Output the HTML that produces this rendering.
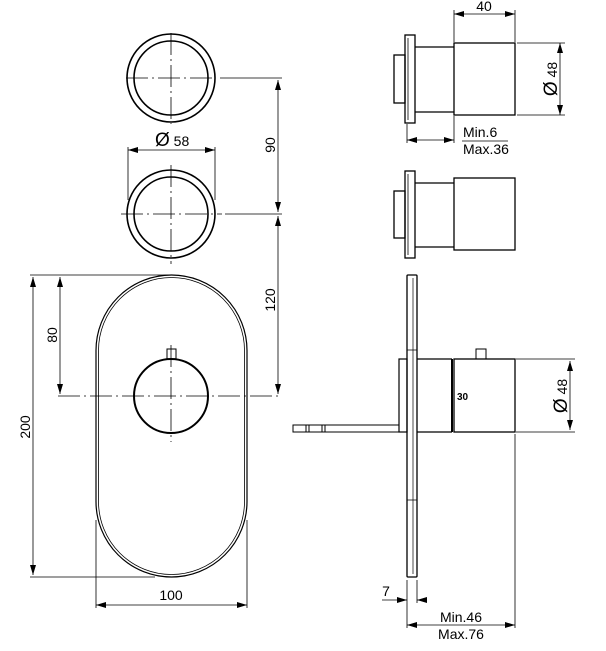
<!DOCTYPE html>
<html><head><meta charset="utf-8"><style>
html,body{margin:0;padding:0;background:#fff;}
svg{display:block;}
text{font-family:"Liberation Sans",Arial,sans-serif;font-size:14px;fill:#000;}
</style></head><body>
<svg width="606" height="651" viewBox="0 0 606 651" xmlns="http://www.w3.org/2000/svg">
<defs>
<marker id="a" viewBox="0 0 10 6" refX="10" refY="3" markerWidth="10" markerHeight="6" orient="auto-start-reverse" markerUnits="userSpaceOnUse"><path d="M0,0 L10,3 L0,6 z" fill="#000"/></marker>
</defs>
<g fill="none" stroke="#000" stroke-width="1">
<circle cx="171" cy="78" r="44" stroke-width="1.6"/>
<circle cx="171" cy="78" r="37" stroke-width="1.6"/>
<circle cx="171" cy="214" r="44" stroke-width="1.6"/>
<circle cx="171" cy="214" r="37" stroke-width="1.6"/>
<g stroke-width="0.8" stroke-dasharray="22,4,2,4">
<path d="M171,33 V124 M171,165 V264"/>
<path d="M126,78 H216 M121,214 H222"/>
</g>
<path d="M220,78 H282 M225,214 H282" stroke-width="0.8"/>
<path d="M278,80 V212" marker-start="url(#a)" marker-end="url(#a)" stroke-width="0.8"/>
<path d="M278,216 V394" marker-start="url(#a)" marker-end="url(#a)" stroke-width="0.8"/>
<path d="M128,147 V200 M215,147 V200" stroke-width="0.8"/>
<path d="M128,150 H215" marker-start="url(#a)" marker-end="url(#a)" stroke-width="0.8"/>
<rect x="96" y="275" width="151" height="302" rx="75.5" stroke-width="1.2"/>
<rect x="98.5" y="277.5" width="146" height="297" rx="73" stroke-width="0.8"/>
<circle cx="171" cy="396" r="37" stroke-width="2"/>
<rect x="167" y="349" width="9" height="10" stroke-width="1"/>
<g stroke-width="0.8" stroke-dasharray="22,4,2,4">
<path d="M171,345 V442"/>
<path d="M58,396 H282"/>
</g>
<path d="M30,275 H171 M30,577 H155" stroke-width="0.8"/>
<path d="M33,277 V575" marker-start="url(#a)" marker-end="url(#a)" stroke-width="0.8"/>
<path d="M60,277 V394" marker-start="url(#a)" marker-end="url(#a)" stroke-width="0.8"/>
<path d="M96,520 V608 M247,520 V608" stroke-width="0.8"/>
<path d="M96,605 H247" marker-start="url(#a)" marker-end="url(#a)" stroke-width="0.8"/>
<rect x="405" y="35" width="10" height="88" stroke-width="1.3"/>
<path d="M408,38 V120" stroke-width="0.8"/>
<rect x="394" y="55" width="11" height="48" stroke-width="1.3"/>
<path d="M415,47 H454 M415,112 H454" stroke-width="1.2"/>
<rect x="454" y="43" width="61" height="72" stroke-width="1.3"/>
<path d="M454,10 V42 M515,10 V42" stroke-width="0.8"/>
<path d="M454,14 H515" marker-start="url(#a)" marker-end="url(#a)" stroke-width="0.8"/>
<path d="M517,43 H565 M517,115 H565" stroke-width="0.8"/>
<path d="M560,43 V115" marker-start="url(#a)" marker-end="url(#a)" stroke-width="0.8"/>
<path d="M407,124 V143 M454,116 V143" stroke-width="0.8"/>
<path d="M407,140 H454" marker-start="url(#a)" marker-end="url(#a)" stroke-width="0.8"/>
<path d="M462,141 H508" stroke-width="0.8"/>
<rect x="405" y="171" width="10" height="87" stroke-width="1.3"/>
<path d="M408,174 V255" stroke-width="0.8"/>
<rect x="394" y="191" width="11" height="47" stroke-width="1.3"/>
<path d="M415,183 H454 M415,247 H454" stroke-width="1.2"/>
<rect x="454" y="178" width="61" height="72" stroke-width="1.3"/>
<rect x="407" y="275" width="10" height="302" rx="1" stroke-width="1.3"/>
<path d="M413,278 V574 M407,350 H417 M407,500 H417" stroke-width="0.7"/>
<rect x="399" y="359" width="8" height="73" stroke-width="1.2"/>
<path d="M417,359 H452 M417,432 H452" stroke-width="1.2"/>
<path d="M452,359 V432" stroke-width="2"/>
<rect x="454" y="359" width="61" height="73" stroke-width="1.3"/>
<rect x="476" y="349" width="10" height="10" stroke-width="1"/>
<rect x="293" y="425" width="106" height="7" stroke-width="1"/>
<path d="M306,425 V432 M309,425 V432 M322,425 V432 M325,425 V432" stroke-width="1"/>
<path d="M516,359 H575 M516,432 H575" stroke-width="0.8"/>
<path d="M570,361 V430" marker-start="url(#a)" marker-end="url(#a)" stroke-width="0.8"/>
<path d="M515,434 V628 M407,580 V628 M417,580 V603" stroke-width="0.8"/>
<path d="M382,600 H407" marker-end="url(#a)" stroke-width="0.8"/>
<path d="M427,600 H417" marker-end="url(#a)" stroke-width="0.8"/>
<path d="M407,625 H515" marker-start="url(#a)" marker-end="url(#a)" stroke-width="0.8"/>
</g>
<text x="155" y="146"><tspan style="font-size:19px">Ø</tspan> 58</text>
<text transform="translate(275,145) rotate(-90)" text-anchor="middle">90</text>
<text transform="translate(275,300) rotate(-90)" text-anchor="middle">120</text>
<text transform="translate(30,427) rotate(-90)" text-anchor="middle">200</text>
<text transform="translate(57,335) rotate(-90)" text-anchor="middle">80</text>
<text x="171" y="600" text-anchor="middle">100</text>
<text x="484" y="11" text-anchor="middle">40</text>
<text transform="translate(557,79) rotate(-90)" text-anchor="middle"><tspan style="font-size:19px">Ø</tspan> 48</text>
<text x="463" y="137">Min.6</text>
<text x="463" y="154">Max.36</text>
<text x="457" y="400" style="font-size:10px;font-weight:bold">30</text>
<text transform="translate(567,396) rotate(-90)" text-anchor="middle"><tspan style="font-size:19px">Ø</tspan> 48</text>
<text x="386" y="596" text-anchor="middle">7</text>
<text x="461" y="622" text-anchor="middle">Min.46</text>
<text x="461" y="639" text-anchor="middle">Max.76</text>
</svg>
</body></html>
